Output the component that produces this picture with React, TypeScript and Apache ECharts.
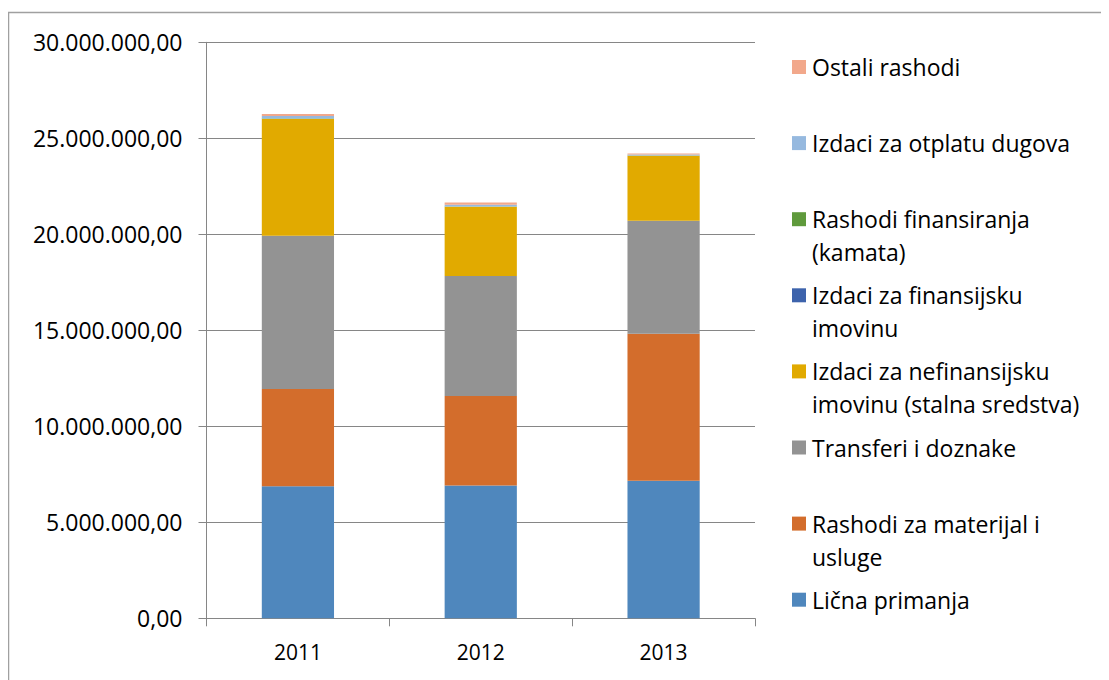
import React, { useEffect, useRef } from "react";
import * as echarts from "echarts";

const years = ["2011", "2012", "2013"];
const seriesNames = [
  "Lična primanja",
  "Rashodi za materijal i usluge",
  "Transferi i doznake",
  "Izdaci za nefinansijsku imovinu (stalna sredstva)",
  "Izdaci za finansijsku imovinu",
  "Rashodi finansiranja (kamata)",
  "Izdaci za otplatu dugova",
  "Ostali rashodi",
];
// legend display text, wrapped as in the reference
const legendLabels = [
  "Lična primanja",
  "Rashodi za materijal i\nusluge",
  "Transferi i doznake",
  "Izdaci za nefinansijsku\nimovinu (stalna sredstva)",
  "Izdaci za finansijsku\nimovinu",
  "Rashodi finansiranja\n(kamata)",
  "Izdaci za otplatu dugova",
  "Ostali rashodi",
];
const licnaPrimanja = [6880000, 6920000, 7160000];
const materijalUsluge = [5060000, 4660000, 7660000];
const transferiDoznake = [7980000, 6250000, 5890000];
const nefinansijskaImovina = [6080000, 3610000, 3380000];
const finansijskaImovina = [0, 0, 0];
const kamata = [30000, 10000, 20000];
const otplataDugova = [130000, 90000, 50000];
const ostaliRashodi = [100000, 120000, 50000];
const seriesValues = [
  licnaPrimanja,
  materijalUsluge,
  transferiDoznake,
  nefinansijskaImovina,
  finansijskaImovina,
  kamata,
  otplataDugova,
  ostaliRashodi,
];
const colors = [
  "#4F87BD",
  "#D36D2C",
  "#939393",
  "#E1AA00",
  "#3D63AC",
  "#5F9A3C",
  "#96B9DF",
  "#F2A88B",
];

const FONT = "Open Sans";

function fmt(v: number): string {
  const s = Math.round(v).toString();
  const withDots = s.replace(/\B(?=(\d{3})+(?!\d))/g, ".");
  return withDots + ",00";
}

export default function App() {
  const ref = useRef<HTMLDivElement>(null);
  useEffect(() => {
    if (!ref.current) return;
    const chart = echarts.init(ref.current, null, { renderer: "svg" });
    const legendItems: any[] = [];
    const n = seriesNames.length;
    for (let i = 0; i < n; i++) {
      const idx = n - 1 - i;
      const y = 59 + i * 76.1;
      legendItems.push({
        type: "rect",
        shape: { x: 784, y: y - 7, width: 14, height: 14 },
        style: { fill: colors[idx] },
      });
      legendItems.push({
        type: "text",
        x: 804,
        y: y - 16.5,
        style: {
          text: legendLabels[idx],
          font: `23px "${FONT}"`,
          fill: "#000",
          lineHeight: 33,
          verticalAlign: "top",
          align: "left",
        },
      });
    }
    chart.setOption({
      animation: false,
      grid: { left: 198.5, top: 34.3, right: 354, bottom: 61.7 },
      xAxis: {
        type: "category",
        data: years,
        axisLine: { lineStyle: { color: "#868686", width: 1 } },
        axisTick: { show: true, length: 8, lineStyle: { color: "#868686" } },
        axisLabel: { fontFamily: FONT, fontSize: 21, color: "#000", margin: 23 },
      },
      yAxis: {
        type: "value",
        min: 0,
        max: 30000000,
        interval: 5000000,
        axisLine: { show: true, lineStyle: { color: "#868686", width: 1 } },
        axisTick: { show: true, length: 8, lineStyle: { color: "#868686" } },
        splitLine: { lineStyle: { color: "#868686", width: 1 } },
        axisLabel: {
          fontFamily: FONT,
          fontSize: 23,
          color: "#000",
          margin: 24,
          formatter: (v: number) => fmt(v),
        },
      },
      series: seriesNames.map((name, i) => ({
        name,
        type: "bar",
        stack: "total",
        barWidth: "39.5%",
        data: seriesValues[i],
        itemStyle: { color: colors[i] },
      })),
      graphic: [
        {
          type: "rect",
          shape: { x: 0.5, y: 4.5, width: 1200, height: 800 },
          style: { fill: "none", stroke: "#A0A0A0", lineWidth: 1.5 },
          silent: true,
        },
        ...legendItems,
      ],
    });
    return () => chart.dispose();
  }, []);
  return <div ref={ref} style={{ width: 1101, height: 672 }} />;
}
